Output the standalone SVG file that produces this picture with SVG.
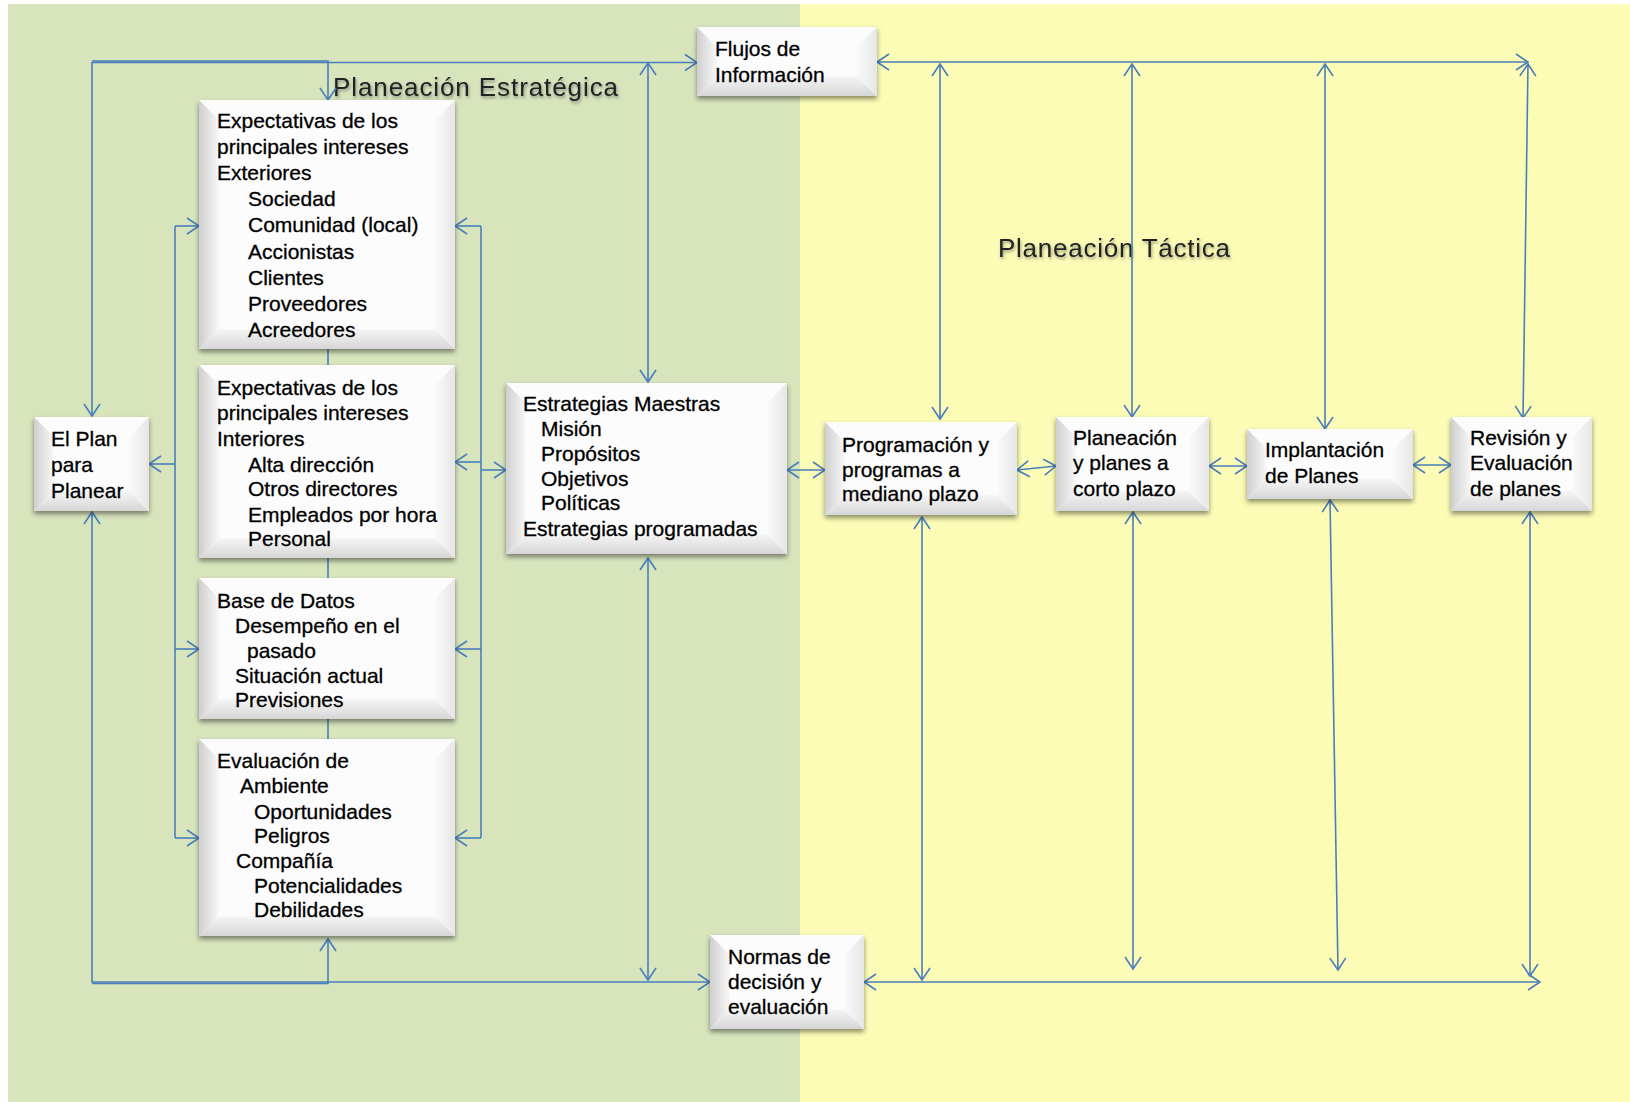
<svg xmlns="http://www.w3.org/2000/svg" width="1630" height="1102" viewBox="0 0 1630 1102">
<style>
.bg-g{fill:#D7E4BC}
.bg-y{fill:#FCFCB6}
.box{fill:#FCFCFC;filter:url(#sh)}
.bl{fill:url(#gl)}
.bb{fill:url(#gb)}
.br{fill:url(#gr)}
.t{font-family:"Liberation Sans",Arial,sans-serif;font-size:21px;fill:#000;stroke:#000;stroke-width:0.3}
.title{font-family:"Liberation Sans",Arial,sans-serif;font-size:26px;fill:#222;filter:url(#ts)}
.c{fill:none;stroke:#4A7EBB;stroke-width:1.6}
.a2{marker-start:url(#ah);marker-end:url(#ah)}
.ae{marker-end:url(#ah)}
.as{marker-start:url(#ah)}
</style>
<defs>
<filter id="sh" x="-10%" y="-10%" width="120%" height="125%">
<feDropShadow dx="0" dy="3" stdDeviation="2.5" flood-color="#000" flood-opacity="0.45"/>
</filter>
<filter id="ts" x="-5%" y="-30%" width="110%" height="160%">
<feDropShadow dx="1" dy="2" stdDeviation="1.5" flood-color="#555" flood-opacity="0.6"/>
</filter>
<linearGradient id="gl" x1="0" y1="0" x2="1" y2="0"><stop offset="0" stop-color="#CFCFCF"/><stop offset="1" stop-color="#F8F8F8"/></linearGradient>
<linearGradient id="gb" x1="0" y1="0" x2="0" y2="1"><stop offset="0" stop-color="#F6F6F6"/><stop offset="1" stop-color="#D6D6D6"/></linearGradient>
<linearGradient id="gr" x1="0" y1="0" x2="1" y2="0"><stop offset="0" stop-color="#FAFAFA"/><stop offset="1" stop-color="#E6E6E6"/></linearGradient>
<marker id="ah" viewBox="-14 -10 16 20" refX="0" refY="0" markerWidth="16" markerHeight="20" markerUnits="userSpaceOnUse" orient="auto-start-reverse">
<path d="M-12,-8 L0,0 L-12,8" fill="none" stroke="#4A7EBB" stroke-width="1.6"/>
</marker>
</defs>

<g id="background">
<rect class="bg-g" x="8" y="4" width="792" height="1098"/>
<rect class="bg-y" x="800" y="4" width="830" height="1098"/>
</g>

<g id="titles">
<text class="title" x="333" y="96" textLength="285" lengthAdjust="spacing">Planeación Estratégica</text>
<text class="title" x="998" y="257" textLength="232" lengthAdjust="spacing">Planeación Táctica</text>
</g>

<g id="connectors">
<path class="c as ae" d="M92,416 V62.5 H697"/>
<path class="c ae" d="M92,61 H328 V100"/>
<path class="c a2" d="M648,63 V382"/>
<path class="c a2" d="M877,62 H1528"/>
<path class="c a2" d="M940,64 V419"/>
<path class="c a2" d="M1132,64 V417"/>
<path class="c a2" d="M1325,64 V429"/>
<path class="c a2" d="M1528,64 L1523,418"/>
<path class="c a2" d="M922,517 V980"/>
<path class="c a2" d="M1133,512 V969"/>
<path class="c a2" d="M1330,500 L1338,970"/>
<path class="c a2" d="M1530,512 V976"/>
<path class="c a2" d="M864,982 H1540"/>
<path class="c a2" d="M648,558 V980"/>
<path class="c as ae" d="M92,512 V982 H710"/>
<path class="c as" d="M328,939 V983.5 H92"/>
<path class="c" d="M175,226 V838"/>
<path class="c ae" d="M175,226 H199"/>
<path class="c ae" d="M175,649 H199"/>
<path class="c ae" d="M175,838 H199"/>
<path class="c ae" d="M175,464 H149"/>
<path class="c" d="M481,226 V838"/>
<path class="c ae" d="M481,226 H455"/>
<path class="c ae" d="M481,649 H455"/>
<path class="c ae" d="M481,838 H455"/>
<path class="c ae" d="M481,462 H455"/>
<path class="c ae" d="M481,470 H506"/>
<path class="c" d="M328,349 V365 M328,558 V578 M328,719 V739"/>
<path class="c a2" d="M787,470 H825"/>
<path class="c a2" d="M1017,470 L1056,466"/>
<path class="c a2" d="M1209,466 H1247"/>
<path class="c a2" d="M1413,465 H1451"/>
</g>

<g id="n-flujos">
<rect class="box" x="697" y="27" width="180" height="69"/>
<path class="bl" d="M697,27 l20,20 v29 l-20,20 z"/>
<path class="bb" d="M697,96 l20,-20 h140 l20,20 z"/>
<path class="br" d="M877,27 l-20,20 v29 l20,20 z"/>
<text class="t" x="715" y="56">Flujos de</text>
<text class="t" x="715" y="82">Información</text>
</g>

<g id="n-exteriores">
<rect class="box" x="199" y="100" width="256" height="249"/>
<path class="bl" d="M199,100 l20,20 v209 l-20,20 z"/>
<path class="bb" d="M199,349 l20,-20 h216 l20,20 z"/>
<path class="br" d="M455,100 l-20,20 v209 l20,20 z"/>
<text class="t" x="217" y="128">Expectativas de los</text>
<text class="t" x="217" y="154">principales intereses</text>
<text class="t" x="217" y="180">Exteriores</text>
<text class="t" x="248" y="206">Sociedad</text>
<text class="t" x="248" y="232">Comunidad (local)</text>
<text class="t" x="248" y="259">Accionistas</text>
<text class="t" x="248" y="285">Clientes</text>
<text class="t" x="248" y="311">Proveedores</text>
<text class="t" x="248" y="337">Acreedores</text>
</g>

<g id="n-interiores">
<rect class="box" x="199" y="365" width="256" height="193"/>
<path class="bl" d="M199,365 l20,20 v153 l-20,20 z"/>
<path class="bb" d="M199,558 l20,-20 h216 l20,20 z"/>
<path class="br" d="M455,365 l-20,20 v153 l20,20 z"/>
<text class="t" x="217" y="395">Expectativas de los</text>
<text class="t" x="217" y="420">principales intereses</text>
<text class="t" x="217" y="446">Interiores</text>
<text class="t" x="248" y="472">Alta dirección</text>
<text class="t" x="248" y="496">Otros directores</text>
<text class="t" x="248" y="522">Empleados por hora</text>
<text class="t" x="248" y="546">Personal</text>
</g>

<g id="n-base-datos">
<rect class="box" x="199" y="578" width="256" height="141"/>
<path class="bl" d="M199,578 l20,20 v101 l-20,20 z"/>
<path class="bb" d="M199,719 l20,-20 h216 l20,20 z"/>
<path class="br" d="M455,578 l-20,20 v101 l20,20 z"/>
<text class="t" x="217" y="608">Base de Datos</text>
<text class="t" x="235" y="633">Desempeño en el</text>
<text class="t" x="247" y="658">pasado</text>
<text class="t" x="235" y="683">Situación actual</text>
<text class="t" x="235" y="707">Previsiones</text>
</g>

<g id="n-evaluacion">
<rect class="box" x="199" y="739" width="256" height="197"/>
<path class="bl" d="M199,739 l20,20 v157 l-20,20 z"/>
<path class="bb" d="M199,936 l20,-20 h216 l20,20 z"/>
<path class="br" d="M455,739 l-20,20 v157 l20,20 z"/>
<text class="t" x="217" y="768">Evaluación de</text>
<text class="t" x="240" y="793">Ambiente</text>
<text class="t" x="254" y="819">Oportunidades</text>
<text class="t" x="254" y="843">Peligros</text>
<text class="t" x="236" y="868">Compañía</text>
<text class="t" x="254" y="893">Potencialidades</text>
<text class="t" x="254" y="917">Debilidades</text>
</g>

<g id="n-plan">
<rect class="box" x="34" y="417" width="115" height="94"/>
<path class="bl" d="M34,417 l20,20 v54 l-20,20 z"/>
<path class="bb" d="M34,511 l20,-20 h75 l20,20 z"/>
<path class="br" d="M149,417 l-20,20 v54 l20,20 z"/>
<text class="t" x="51" y="446">El Plan</text>
<text class="t" x="51" y="472">para</text>
<text class="t" x="51" y="498">Planear</text>
</g>

<g id="n-estrategias">
<rect class="box" x="506" y="383" width="281" height="171"/>
<path class="bl" d="M506,383 l20,20 v131 l-20,20 z"/>
<path class="bb" d="M506,554 l20,-20 h241 l20,20 z"/>
<path class="br" d="M787,383 l-20,20 v131 l20,20 z"/>
<text class="t" x="523" y="411">Estrategias Maestras</text>
<text class="t" x="541" y="436">Misión</text>
<text class="t" x="541" y="461">Propósitos</text>
<text class="t" x="541" y="486">Objetivos</text>
<text class="t" x="541" y="510">Políticas</text>
<text class="t" x="523" y="536">Estrategias programadas</text>
</g>

<g id="n-normas">
<rect class="box" x="710" y="935" width="154" height="94"/>
<path class="bl" d="M710,935 l20,20 v54 l-20,20 z"/>
<path class="bb" d="M710,1029 l20,-20 h114 l20,20 z"/>
<path class="br" d="M864,935 l-20,20 v54 l20,20 z"/>
<text class="t" x="728" y="964">Normas de</text>
<text class="t" x="728" y="989">decisión y</text>
<text class="t" x="728" y="1014">evaluación</text>
</g>

<g id="n-programacion">
<rect class="box" x="825" y="422" width="192" height="93"/>
<path class="bl" d="M825,422 l20,20 v53 l-20,20 z"/>
<path class="bb" d="M825,515 l20,-20 h152 l20,20 z"/>
<path class="br" d="M1017,422 l-20,20 v53 l20,20 z"/>
<text class="t" x="842" y="452">Programación y</text>
<text class="t" x="842" y="477">programas a</text>
<text class="t" x="842" y="501">mediano plazo</text>
</g>

<g id="n-corto-plazo">
<rect class="box" x="1056" y="417" width="153" height="94"/>
<path class="bl" d="M1056,417 l20,20 v54 l-20,20 z"/>
<path class="bb" d="M1056,511 l20,-20 h113 l20,20 z"/>
<path class="br" d="M1209,417 l-20,20 v54 l20,20 z"/>
<text class="t" x="1073" y="445">Planeación</text>
<text class="t" x="1073" y="470">y planes a</text>
<text class="t" x="1073" y="496">corto plazo</text>
</g>

<g id="n-implantacion">
<rect class="box" x="1247" y="429" width="166" height="70"/>
<path class="bl" d="M1247,429 l20,20 v30 l-20,20 z"/>
<path class="bb" d="M1247,499 l20,-20 h126 l20,20 z"/>
<path class="br" d="M1413,429 l-20,20 v30 l20,20 z"/>
<text class="t" x="1265" y="457">Implantación</text>
<text class="t" x="1265" y="483">de Planes</text>
</g>

<g id="n-revision">
<rect class="box" x="1451" y="417" width="141" height="94"/>
<path class="bl" d="M1451,417 l20,20 v54 l-20,20 z"/>
<path class="bb" d="M1451,511 l20,-20 h101 l20,20 z"/>
<path class="br" d="M1592,417 l-20,20 v54 l20,20 z"/>
<text class="t" x="1470" y="445">Revisión y</text>
<text class="t" x="1470" y="470">Evaluación</text>
<text class="t" x="1470" y="496">de planes</text>
</g>
</svg>
